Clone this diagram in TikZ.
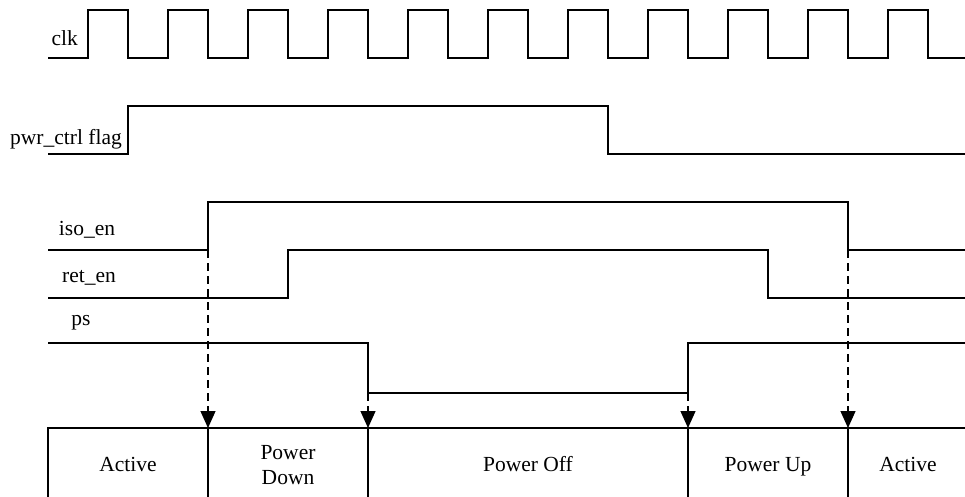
\documentclass[tikz,border=0pt]{standalone}
\usepackage{fontspec}
\setmainfont{Liberation Serif}
\usetikzlibrary{arrows.meta,positioning}

\tikzset{
  wave/.style = {line width=1.4pt},
  trig/.style = {dashed, line width=1.3pt, dash pattern=on 8pt off 5pt,
                 -{Triangle[length=17pt,width=15pt]}},
  lbl/.style  = {inner sep=0pt}
}

\begin{document}
\begin{tikzpicture}[x=1pt, y=-1pt, font=\fontsize{21.5}{25}\selectfont]
\clip (0,0) rectangle (965,497);
% signals
\draw [wave] (48,58) foreach \k in {0,...,10} { -| ({88+80*\k},10) -| ({128+80*\k},58) } -- (965,58);
\draw [wave] (48,154) -| (128,106) -| (608,154) -- (965,154);
\draw [wave] (48,250) -| (208,202) -| (848,250) -- (965,250);
\draw [wave] (48,298) -| (288,250) -| (768,298) -- (965,298);
\draw [wave] (48,343) -| (368,393) -| (688,343) -- (965,343);
% signal names
\node [lbl, anchor=east] (clk) at (78,38) {clk};
\node [lbl, anchor=east] (flag) at (122,139) {pwr\_ctrl flag};
\node [lbl] (iso) at (87,230) {iso\_en};
\node [lbl] (ret) at (89,278) {ret\_en};
\node [lbl] (ps) at (81,323) {ps};
% trigger points
\coordinate (isoOn) at (208,250);
\coordinate (psOff) at (368,393);
\coordinate (psOn) at (688,393);
\coordinate (isoOff) at (848,250);
\coordinate (tA) at (208,428);
\coordinate (tB) at (368,428);
\coordinate (tC) at (688,428);
\coordinate (tD) at (848,428);
\draw [trig] (isoOn) -- (tA);
\draw [trig] (psOff) -- (tB);
\draw [trig] (psOn) -- (tC);
\draw [trig] (isoOff) -- (tD);
% states
\draw [wave] (48,520) |- (975,428);
\draw [wave] (tA) -- ++(0,100);
\draw [wave] (tB) -- ++(0,100);
\draw [wave] (tC) -- ++(0,100);
\draw [wave] (tD) -- ++(0,100);
\node [lbl, anchor=base] (act1) at (128,471) {Active};
\node [lbl, align=center] (down) at (288,465) {Power\\Down};
\node [lbl, anchor=base] (off) at (528,471) {Power Off};
\node [lbl, anchor=base] (up) at (768,471) {Power Up};
\node [lbl, anchor=base] (act2) at (908,471) {Active};
\end{tikzpicture}
\end{document}
